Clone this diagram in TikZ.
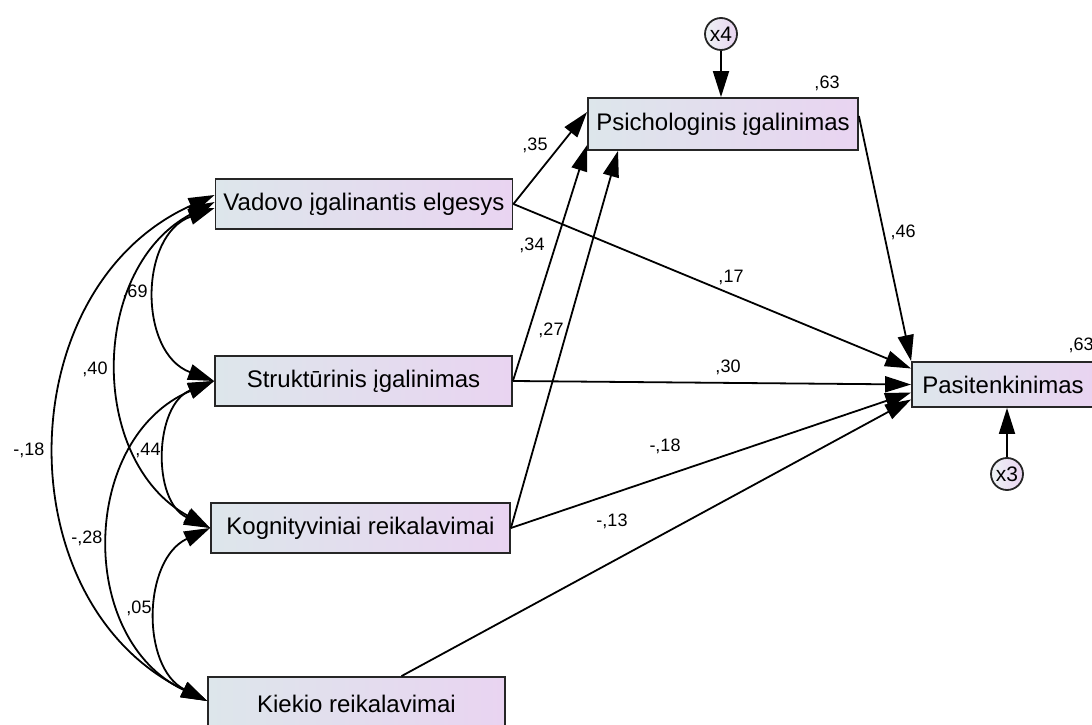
\documentclass[tikz,border=0pt]{standalone}
\usepackage{fontspec}
\setmainfont{Liberation Sans}
\usepackage{xcolor}
\usetikzlibrary{calc, positioning, arrows.meta}

\definecolor{boxL}{RGB}{221,230,235}
\definecolor{boxR}{RGB}{233,212,241}

\tikzset{
    var/.style={draw=black!85, line width=1.8pt, left color=boxL, right color=boxR,
        minimum height=50pt, inner sep=0pt, font=\fontsize{24}{28}\selectfont},
    err/.style={circle, draw=black!85, line width=1.8pt, left color=boxL!50!white,
        right color=boxR, minimum size=32pt, inner sep=0pt, font=\fontsize{21}{23}\selectfont},
    coef/.style={inner sep=1pt, font=\fontsize{18}{20}\selectfont},
    reg/.style={->, line width=1.8pt},
    cov/.style={<->, line width=1.8pt}
}

\begin{document}
\begin{tikzpicture}[x=1pt, y=1pt, >={Triangle[length=26pt, width=16pt]}]
    \useasboundingbox (0,0) rectangle (1092,724);

    % Stebimi kintamieji
    \node[var, minimum width=297pt] (vad) at (364,520) {Vadovo įgalinantis elgesys};
    \node[var, minimum width=297pt] (str) at (363.5,343) {Struktūrinis įgalinimas};
    \node[var, minimum width=299pt] (kog) at (360.5,196) {Kognityviniai reikalavimai};
    \node[var, minimum width=297pt, minimum height=54pt] (kie) at (356.5,20) {Kiekio reikalavimai};
    \node[var, minimum width=270pt, minimum height=52pt] (psi) at (723,600) {Psichologinis įgalinimas};
    \node[var, minimum width=182pt, minimum height=45pt] (pas) at (1003,339.5) {Pasitenkinimas};

    % Paklaidos
    \node[err] (x4) at (721,690) {x4};
    \node[err] (x3) at (1007,250) {x3};

    % Regresiniai ryšiai
    \draw[reg] (vad.east) -- ([yshift=12pt]psi.west);
    \draw[reg] (str.east) -- ([yshift=-21pt]psi.west);
    \draw[reg] (kog.east) -- ([xshift=-105pt]psi.south);
    \draw[reg] (vad.east) -- ([yshift=16pt]pas.west);
    \draw[reg] (str.east) -- (pas.west);
    \draw[reg] (kog.east) -- ([yshift=-8pt]pas.west);
    \draw[reg] ([xshift=45pt]kie.north) -- ([yshift=-15pt]pas.west);
    \draw[reg] ([yshift=8pt]psi.east) -- (pas.north west);
    \draw[reg] (x4) -- (x4 |- psi.north);
    \draw[reg] (x3) -- (x3 |- pas.south);

    % Kovariacijos
    \draw[cov] ([yshift=-4pt]vad.west) to[bend right=70, looseness=1.19] (str.west);
    \draw[cov] ([yshift=2pt]vad.west) to[bend right=62, looseness=1.10] (kog.west);
    \draw[cov] ([yshift=9pt]vad.west) to[bend right=65, looseness=1.14] ([yshift=3pt]kie.west);
    \draw[cov] (str.west) to[bend right=67, looseness=1.12] (kog.west);
    \draw[cov] (str.west) to[bend right=66, looseness=1.16] ([yshift=3pt]kie.west);
    \draw[cov] (kog.west) to[bend right=64, looseness=1.10] ([yshift=3pt]kie.west);

    % Koeficientai
    \node[coef] (c35) at (535,579) {,35};
    \node[coef] (c34) at (532,479) {,34};
    \node[coef] (c27) at (551,394) {,27};
    \node[coef] (c17) at (731,447) {,17};
    \node[coef] (c30) at (728,357) {,30};
    \node[coef] (c18a) at (665,278) {-,18};
    \node[coef] (c13) at (612,203) {-,13};
    \node[coef] (c46) at (903,492) {,46};
    \node[coef] (r63a) at (827,641) {,63};
    \node[coef] (r63b) at (1081,379) {,63};
    \node[coef] (c69) at (135,432) {,69};
    \node[coef] (c40) at (95,355) {,40};
    \node[coef] (c18b) at (29,274) {-,18};
    \node[coef] (c44) at (148,274) {,44};
    \node[coef] (c28) at (87,186) {-,28};
    \node[coef] (c05) at (139,116) {,05};
\end{tikzpicture}
\end{document}
